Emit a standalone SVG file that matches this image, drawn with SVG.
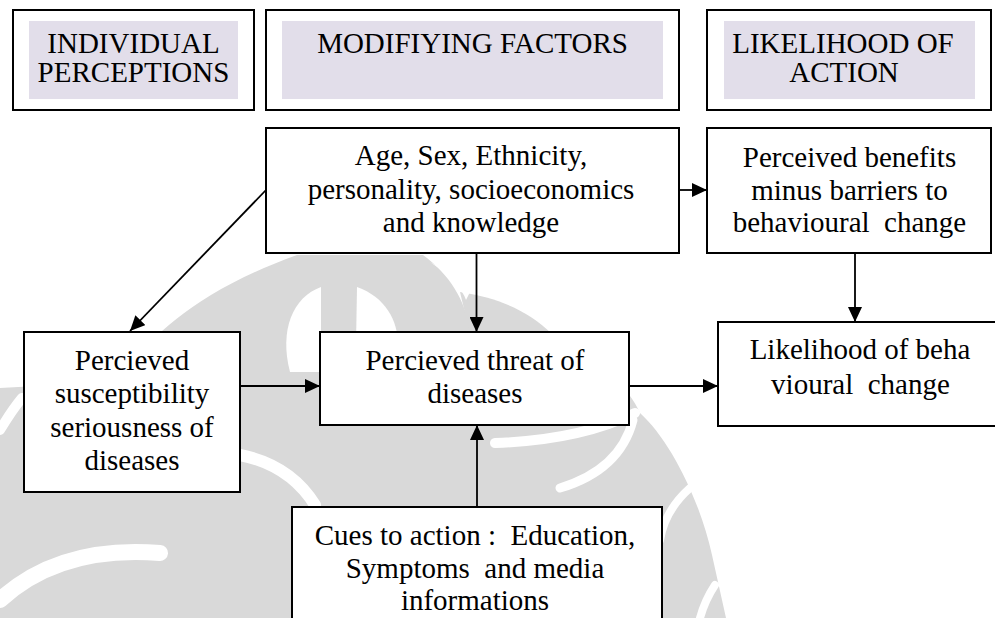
<svg xmlns="http://www.w3.org/2000/svg" width="995" height="618" viewBox="0 0 995 618">
  <defs>
    <style>
      .box { fill: #ffffff; stroke: #000000; stroke-width: 2; }
      .hdr { fill: #ffffff; stroke: #000000; stroke-width: 2; }
      .hdrfill { fill: #e2deea; stroke: none; }
      .t { font-family: "Liberation Serif", "Times New Roman", serif; font-size: 29px; fill: #000000; text-anchor: middle; white-space: pre; }
      .conn { stroke: #000000; stroke-width: 1.8; fill: none; marker-end: url(#arrow); }
      .wm { fill: #d9d9d9; }
      .wmcut { fill: #ffffff; }
      .wmline { stroke: #ffffff; fill: none; stroke-linecap: round; }
    </style>
    <marker id="arrow" markerUnits="userSpaceOnUse" markerWidth="16" markerHeight="14" refX="15" refY="7" orient="auto">
      <path d="M0,0 L15,7 L0,14 Z" fill="#000000"/>
    </marker>
  </defs>
  <rect width="995" height="618" fill="#ffffff"/>

  <g id="watermark">
    <path class="wm" d="M297,255 L423,255 C450,275 465,300 470,330 L540,330 C600,355 630,390 640,413 C670,440 700,500 712,555 L726,618 L0,618 L0,388 C50,385 95,385 127,367 C160,330 200,290 297,255 Z"/>
    <path class="wm" d="M460,292 C500,298 530,312 552,334 L470,334 Z"/>
    <path class="wmcut" d="M321,287 C293,297 279,330 290,372 L321,372 Z"/>
    <path class="wmcut" d="M357,287 C385,297 398,320 398,345 L356,345 Z"/>
    <path class="wmcut" d="M430,262 C450,275 463,290 466,300 L470,292 C455,280 445,270 430,262 Z"/>
    <path class="wmline" stroke-width="10" d="M0,430 Q12,410 22,398"/>
    <path class="wmline" stroke-width="16" d="M0,600 Q60,545 160,553"/>
    <path class="wmline" stroke-width="12" d="M240,455 Q290,465 315,505"/>
    <path class="wmline" stroke-width="10" d="M495,443 Q580,440 635,413"/>
    <path class="wmline" stroke-width="9" d="M633,420 Q620,470 560,488"/>
    <path class="wmline" stroke-width="8" d="M690,488 Q665,510 660,540"/>
    <path class="wmline" stroke-width="8" d="M715,585 Q705,600 700,618"/>
  </g>

  <g id="hdr-individual">
    <rect class="hdr" x="13" y="10" width="241" height="100"/>
    <rect class="hdrfill" x="29" y="21" width="209" height="78"/>
    <text class="t" x="133.5" y="53">INDIVIDUAL</text>
    <text class="t" x="133.5" y="82">PERCEPTIONS</text>
  </g>
  <g id="hdr-modifying">
    <rect class="hdr" x="266" y="10" width="413" height="100"/>
    <rect class="hdrfill" x="282" y="21" width="381" height="78"/>
    <text class="t" x="472.5" y="53">MODIFIYING FACTORS</text>
  </g>
  <g id="hdr-likelihood">
    <rect class="hdr" x="707" y="10" width="284" height="100"/>
    <rect class="hdrfill" x="724" y="21" width="251" height="78"/>
    <text class="t" x="843" y="53">LIKELIHOOD OF</text>
    <text class="t" x="844" y="82">ACTION</text>
  </g>

  <g id="connectors">
    <path class="conn" d="M266,190 L130,331"/>
    <path class="conn" d="M476.5,253 L476.5,332"/>
    <path class="conn" d="M679,190 L707,190"/>
    <path class="conn" d="M855,253 L855,322"/>
    <path class="conn" d="M240,386 L320,386"/>
    <path class="conn" d="M629,386 L718,386"/>
    <path class="conn" d="M477,507 L477,425"/>
  </g>

  <g id="node-factors">
    <rect class="box" x="266" y="128" width="413" height="125"/>
    <text class="t" x="471" y="165">Age, Sex, Ethnicity,</text>
    <text class="t" x="471" y="198.5">personality, socioeconomics</text>
    <text class="t" x="471" y="232">and knowledge</text>
  </g>
  <g id="node-benefits">
    <rect class="box" x="707" y="128" width="284" height="125"/>
    <text class="t" x="849.5" y="167">Perceived benefits</text>
    <text class="t" x="849.5" y="199.5">minus barriers to</text>
    <text class="t" x="849.5" y="232">behavioural  change</text>
  </g>
  <g id="node-likelihood">
    <rect class="box" x="718" y="322" width="290" height="104"/>
    <text class="t" x="860" y="358.5">Likelihood of beha</text>
    <text class="t" x="860.5" y="393.5">vioural  change</text>
  </g>
  <g id="node-susceptibility">
    <rect class="box" x="24" y="332" width="216" height="160"/>
    <text class="t" x="132" y="370">Percieved</text>
    <text class="t" x="132" y="403">susceptibility</text>
    <text class="t" x="132" y="436.5">seriousness of</text>
    <text class="t" x="132" y="470">diseases</text>
  </g>
  <g id="node-threat">
    <rect class="box" x="320" y="332" width="309" height="93"/>
    <text class="t" x="475" y="370">Percieved threat of</text>
    <text class="t" x="475" y="403">diseases</text>
  </g>
  <g id="node-cues">
    <rect class="box" x="292" y="507" width="370" height="130"/>
    <text class="t" x="475" y="545">Cues to action :  Education,</text>
    <text class="t" x="475" y="578">Symptoms  and media</text>
    <text class="t" x="475" y="610">informations</text>
  </g>
</svg>
